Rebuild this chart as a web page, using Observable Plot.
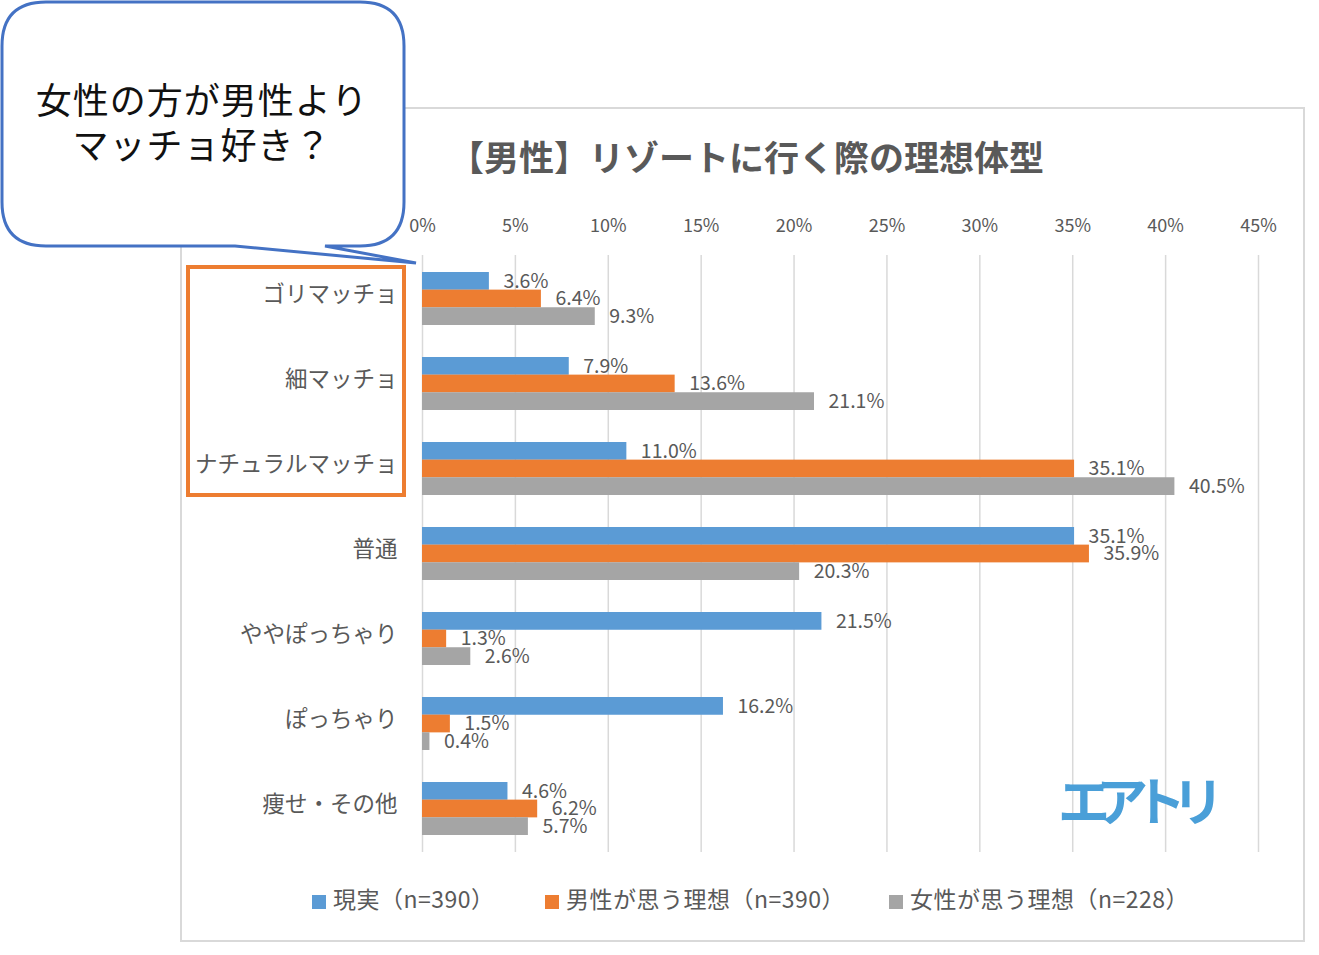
<!DOCTYPE html>
<html><head><meta charset="utf-8">
<script src="https://cdn.jsdelivr.net/npm/d3@7"></script>
<script src="https://cdn.jsdelivr.net/npm/@observablehq/plot@0.6"></script>
<style>
body{margin:0;background:#fff;font-family:"Noto Sans CJK JP","Noto Sans",sans-serif;}
#wrap{position:relative;width:1319px;height:955px;overflow:hidden;background:#fff;}
#frame{position:absolute;left:180px;top:107px;width:1125px;height:835px;border:2px solid #d9d9d9;box-sizing:border-box;}
#chart{position:absolute;left:180px;top:107px;}
#title{position:absolute;left:184px;width:1125px;text-align:center;top:130px;font-size:35px;font-weight:bold;color:#595959;white-space:nowrap;}
.leg{position:absolute;top:883px;font-size:23px;color:#595959;white-space:nowrap;line-height:30px;letter-spacing:0.5px;}
.sw{display:inline-block;width:14px;height:14px;margin-right:7px;vertical-align:-1px;}
#logo{position:absolute;left:1058px;top:766px;font-size:52px;font-weight:bold;color:#4a9fd8;letter-spacing:-14px;white-space:nowrap;line-height:66px;}
#overlay{position:absolute;left:0;top:0;}
</style>
</head><body>
<div id="wrap">
  <div id="frame"></div>
  <div id="title"></div>
  <div id="chart"></div>
  <div id="legend"></div>
  <div id="logo">エアトリ</div>
  <svg id="overlay" width="1319" height="955"></svg>
</div>
<script>
const title = "【男性】リゾートに行く際の理想体型";
const categories = ["ゴリマッチョ","細マッチョ","ナチュラルマッチョ","普通","ややぽっちゃり","ぽっちゃり","痩せ・その他"];
const seriesNames = ["現実（n=390）","男性が思う理想（n=390）","女性が思う理想（n=228）"];
const seriesColors = ["#5b9bd5","#ed7d31","#a5a5a5"];
const reality   = [3.6, 7.9, 11.0, 35.1, 21.5, 16.2, 4.6];
const menIdeal  = [6.4, 13.6, 35.1, 35.9, 1.3, 1.5, 6.2];
const womenIdeal= [9.3, 21.1, 40.5, 20.3, 2.6, 0.4, 5.7];
const xTicks = [0,5,10,15,20,25,30,35,40,45];
const calloutLines = ["女性の方が男性より","マッチョ好き？"];

document.getElementById("title").textContent = title;

const allSeries = [reality, menIdeal, womenIdeal];
const rows = [];
allSeries.forEach((vals, si) => vals.forEach((v, ci) => rows.push({category: categories[ci], series: seriesNames[si], si, value: v})));

const W = 1125, H = 835;
const mL = 242, mR = 47, mT = 148, mB = 90;
const pInner = 0.38, pOuter = 0.19;
const step = (H - mT - mB) / (categories.length - pInner + 2 * pOuter);
const bw = step * (1 - pInner);
const sub = bw / 3;

const marks = [
  Plot.gridX(xTicks, {stroke: "#d9d9d9", strokeOpacity: 1, strokeWidth: 1.5}),
  Plot.axisX(xTicks, {anchor: "top", tickSize: 0, tickPadding: 24, tickFormat: d => d + "%", fontSize: 18, fill: "#595959"}),
  Plot.axisY({anchor: "left", tickSize: 0, tickPadding: 25, dy: -4, fontSize: 22.5, fill: "#595959"})
];
[0,1,2].forEach(si => {
  const d = rows.filter(r => r.si === si);
  marks.push(Plot.barX(d, {x: "value", y: "category", fill: "series", insetTop: sub * si, insetBottom: sub * (2 - si)}));
  marks.push(Plot.text(d, {x: "value", y: "category", text: r => r.value.toFixed(1) + "%", dx: 14, dy: sub * (si - 1), textAnchor: "start", fontSize: 19.5, fill: "#595959"}));
});

const plot = Plot.plot({
  width: W, height: H,
  marginLeft: mL, marginRight: mR, marginTop: mT, marginBottom: mB,
  style: {fontFamily: '"Noto Sans CJK JP","Noto Sans",sans-serif', color: "#595959", background: "transparent"},
  x: {domain: [0, 45], label: null, axis: null},
  y: {domain: categories, paddingInner: pInner, paddingOuter: pOuter, label: null, axis: null},
  color: {domain: seriesNames, range: seriesColors},
  marks
});
document.getElementById("chart").appendChild(plot);

// legend
const legX = [312, 545, 889];
const legend = document.getElementById("legend");
seriesNames.forEach((n, i) => {
  const el = document.createElement("div");
  el.className = "leg";
  el.style.left = legX[i] + "px";
  el.innerHTML = `<span class="sw" style="background:${seriesColors[i]}"></span>${n}`;
  legend.appendChild(el);
});

// annotations
const ov = d3.select("#overlay");
ov.append("rect").attr("x", 188).attr("y", 267).attr("width", 216).attr("height", 228)
  .attr("fill", "none").attr("stroke", "#ed7d31").attr("stroke-width", 4);
ov.append("path")
  .attr("d", "M46,2 H360 Q404,2 404,46 V202 Q404,246 360,246 H325 L416,263 L235,246 H46 Q2,246 2,202 V46 Q2,2 46,2 Z")
  .attr("fill", "#fff").attr("stroke", "#4472c4").attr("stroke-width", 3);
calloutLines.forEach((t, i) => {
  ov.append("text").attr("x", 202).attr("y", 98 + i * 45)
    .attr("text-anchor", "middle").attr("dominant-baseline", "central")
    .attr("font-size", 36).attr("letter-spacing", 1)
    .attr("font-family", '"Noto Sans CJK JP",sans-serif').attr("fill", "#111").text(t);
});
</script>
</body></html>
